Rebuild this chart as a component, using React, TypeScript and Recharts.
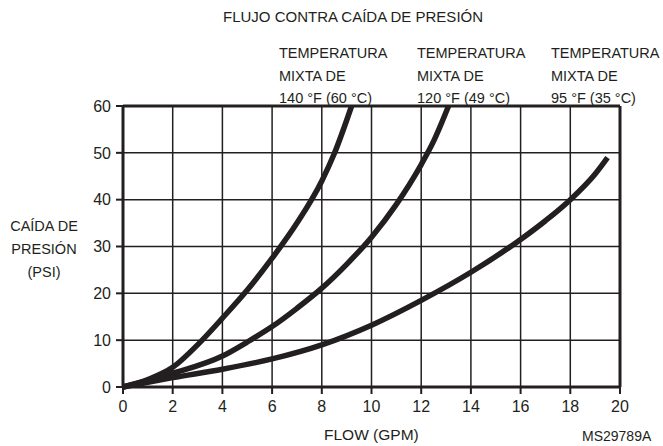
import React from 'react';
import { LineChart, Line, XAxis, YAxis, CartesianGrid, ReferenceLine } from 'recharts';

const xTicks = [0, 2, 4, 6, 8, 10, 12, 14, 16, 18, 20];
const yTicks = [0, 10, 20, 30, 40, 50, 60];

// mixed temperature 140 °F (60 °C)
const flow140 = [0, 1, 2, 3, 4, 5, 6, 7, 8, 8.5, 9.2];
const psi140 = [0, 1.6, 4.2, 9, 14.7, 20.7, 27.5, 35, 44, 49.8, 60];

// mixed temperature 120 °F (49 °C)
const flow120 = [0, 2, 4, 5, 6, 7, 8, 9, 10, 11, 12, 12.5, 13.1];
const psi120 = [0, 2.9, 6.6, 9.6, 12.9, 16.8, 21.1, 26.2, 32, 39, 47.5, 52.5, 60];

// mixed temperature 95 °F (35 °C)
const flow95 = [0, 2, 4, 6, 8, 10, 12, 14, 16, 17, 18, 19, 19.5];
const psi95 = [0, 2, 3.8, 6, 9, 13.2, 18.5, 24.5, 31.5, 35.5, 40, 45.5, 49];

const seriesLabels = [
  ['TEMPERATURA', 'MIXTA DE', '140 °F (60 °C)'],
  ['TEMPERATURA', 'MIXTA DE', '120 °F (49 °C)'],
  ['TEMPERATURA', 'MIXTA DE', '95 °F (35 °C)'],
];

const toPoints = (xs: number[], ys: number[]) => xs.map((x, i) => ({ x, y: ys[i] }));

const INK = '#231f20';
const FONT = '"Liberation Sans", Arial, sans-serif';

const App: React.FC = () => {
  const labelLeft = [279, 417, 551];
  return (
    <div style={{ position: 'relative', width: 663, height: 446, fontFamily: FONT, color: INK }}>
      <style>{`body{margin:0}`}</style>
      <div style={{ position: 'absolute', left: 223, top: 9, fontSize: 15, lineHeight: 1, whiteSpace: 'nowrap' }}>
        FLUJO CONTRA CAÍDA DE PRESIÓN
      </div>
      {seriesLabels.map((lines, i) => (
        <div key={i} style={{ position: 'absolute', left: labelLeft[i], top: 42, fontSize: 14.5, lineHeight: '22.5px', whiteSpace: 'nowrap' }}>
          {lines.map((l, j) => <div key={j}>{l}</div>)}
        </div>
      ))}
      <div style={{ position: 'absolute', left: 0, width: 88, top: 215, textAlign: 'center', fontSize: 14.5, lineHeight: '23px' }}>
        <div>CAÍDA DE</div>
        <div>PRESIÓN</div>
        <div>(PSI)</div>
      </div>
      <div style={{ position: 'absolute', left: 324, top: 427, fontSize: 15.5, lineHeight: 1, whiteSpace: 'nowrap' }}>FLOW (GPM)</div>
      <div style={{ position: 'absolute', left: 582, top: 429, fontSize: 14, lineHeight: 1, whiteSpace: 'nowrap' }}>MS29789A</div>
      <div style={{ position: 'absolute', left: 0, top: 0 }}>
        <LineChart width={663} height={446} margin={{ top: 106, right: 43, bottom: 29, left: 0 }}>
          <CartesianGrid stroke={INK} strokeWidth={1.5} horizontalValues={yTicks} verticalValues={xTicks} />
          <XAxis
            type="number"
            dataKey="x"
            domain={[0, 20]}
            ticks={xTicks}
            height={30}
            axisLine={{ stroke: INK, strokeWidth: 3 }}
            tickLine={{ stroke: INK, strokeWidth: 2 }}
            tickSize={7}
            tickMargin={7}
            tick={{ fill: INK, fontSize: 16, fontFamily: FONT }}
            allowDuplicatedCategory={false}
          />
          <YAxis
            type="number"
            dataKey="y"
            domain={[0, 60]}
            ticks={yTicks}
            width={123}
            axisLine={{ stroke: INK, strokeWidth: 3 }}
            tickLine={{ stroke: INK, strokeWidth: 2 }}
            tickSize={7}
            tickMargin={5}
            tick={{ fill: INK, fontSize: 16, fontFamily: FONT }}
          />
          <ReferenceLine y={60} stroke={INK} strokeWidth={3} />
          <ReferenceLine x={20} stroke={INK} strokeWidth={3} />
          <Line data={toPoints(flow140, psi140)} dataKey="y" type="monotone" stroke={INK} strokeWidth={5.5} dot={false} isAnimationActive={false} />
          <Line data={toPoints(flow120, psi120)} dataKey="y" type="monotone" stroke={INK} strokeWidth={5.5} dot={false} isAnimationActive={false} />
          <Line data={toPoints(flow95, psi95)} dataKey="y" type="monotone" stroke={INK} strokeWidth={5.5} dot={false} isAnimationActive={false} />
        </LineChart>
      </div>
    </div>
  );
};

export default App;
